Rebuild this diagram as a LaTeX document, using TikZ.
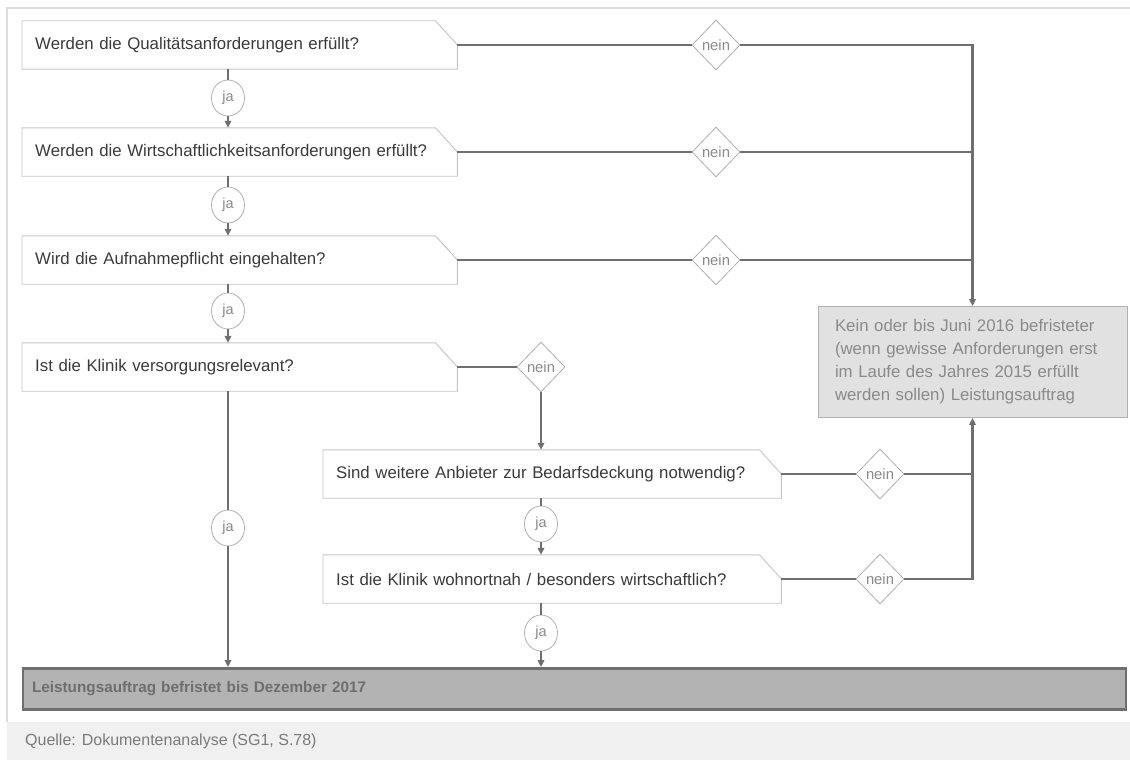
\documentclass[tikz,border=0pt]{standalone}
\usepackage{fontspec}
\setmainfont{Liberation Sans}
\usetikzlibrary{shapes.geometric,arrows.meta}
\definecolor{connc}{HTML}{6F6F6F}
\definecolor{boxc}{HTML}{C4C4C4}
\definecolor{txtc}{HTML}{3A3A3A}
\definecolor{lblc}{HTML}{8A8A8A}
\definecolor{shapec}{HTML}{B0B0B0}
\definecolor{resfill}{HTML}{E1E1E1}
\definecolor{finfill}{HTML}{B3B3B3}
\definecolor{fintxt}{HTML}{6E6E6E}
\definecolor{framec}{HTML}{DCDCDC}
\definecolor{bandc}{HTML}{F0F0F0}
\definecolor{srcc}{HTML}{7A7A7A}
\newcommand\qoutline[1]{\draw[qline] (#1.south west) -- (#1.north west) -- ([xshift=-22pt]#1.north east) -- (#1.east) -- (#1.south east) -- cycle;}
\begin{document}
\begin{tikzpicture}[x=1pt,y=-1pt,
  qbox/.style={rectangle, anchor=west, inner xsep=13pt, inner ysep=0pt, minimum height=48pt, text width=#1, align=left, font=\fontsize{16.8}{20}\selectfont, text=txtc},
  qline/.style={draw=boxc, line width=0.9pt},
  jacirc/.style={ellipse, draw=shapec, line width=0.8pt, fill=white, minimum width=33pt, minimum height=36pt, inner sep=0pt, font=\fontsize{14.5}{16}\selectfont, text=lblc},
  neindia/.style={diamond, draw=shapec, line width=0.8pt, fill=white, minimum width=48pt, minimum height=50pt, inner sep=0pt, font=\fontsize{14.8}{16}\selectfont, text=lblc},
  mainline/.style={draw=connc, line width=2.6pt},
  jaline/.style={draw=connc, line width=2pt},
  tip/.style={-{Triangle[length=7pt,width=6.5pt]}}
]
\useasboundingbox (0,0) rectangle (1130,760);
% frame and source band
\draw[framec, line width=1.5pt] (7,722) -- (7,8) -- (1130,8);
\fill[bandc] (7,722) rectangle (1130,760);
\node[anchor=west, inner sep=0pt, font=\fontsize{16}{18}\selectfont, text=srcc] (src) at (25,741) {Quelle: Dokumentenanalyse (SG1, S.78)};

% question boxes
\node[qbox=409pt] (b1) at (22,45) {Werden die Qualitätsanforderungen erfüllt?};
\node[qbox=409pt] (b2) at (22,152) {Werden die Wirtschaftlichkeitsanforderungen erfüllt?};
\node[qbox=409pt] (b3) at (22,260) {Wird die Aufnahmepflicht eingehalten?};
\node[qbox=409pt] (b4) at (22,367) {Ist die Klinik versorgungsrelevant?};
\node[qbox=432pt] (b5) at (323,474) {Sind weitere Anbieter zur Bedarfsdeckung notwendig?};
\node[qbox=432pt] (b6) at (323,579) {Ist die Klinik wohnortnah / besonders wirtschaftlich?};
\qoutline{b1}\qoutline{b2}\qoutline{b3}\qoutline{b4}\qoutline{b5}\qoutline{b6}

% result boxes
\node[rectangle, fill=resfill, draw=shapec, line width=0.8pt, minimum width=309pt, minimum height=111pt, inner xsep=17pt, text width=275pt, align=left, font=\fontsize{16.8}{23}\selectfont, text=lblc] (res) at (972.5,362)
  {Kein oder bis Juni 2016 befristeter (wenn gewisse Anforderungen erst im Laufe des Jahres 2015 erfüllt werden sollen) Leistungsauftrag};
\node[rectangle, fill=finfill, draw=connc, line width=2.8pt, minimum width=1103pt, minimum height=41pt, inner xsep=9pt, text width=1085pt, align=left, font=\fontsize{15.3}{18}\selectfont\bfseries, text=fintxt] (fin) at (574.5,689)
  {Leistungsauftrag befristet bis Dezember 2017};

% ja circles
\node[jacirc] (ja1) at (228,98) {ja};
\node[jacirc] (ja2) at (228,205) {ja};
\node[jacirc] (ja3) at (228,311) {ja};
\node[jacirc] (ja4) at (228,528) {ja};
\node[jacirc] (ja5) at (541,524) {ja};
\node[jacirc] (ja6) at (541,633) {ja};

% nein diamonds
\node[neindia] (n1) at (716,45) {nein};
\node[neindia] (n2) at (716,152) {nein};
\node[neindia] (n3) at (716,260) {nein};
\node[neindia] (n4) at (541,367) {nein};
\node[neindia] (n5) at (880,474) {nein};
\node[neindia] (n6) at (880,579) {nein};

% ja connectors
\draw[jaline] (ja1 |- b1.south) -- (ja1.north);
\draw[jaline, tip] (ja1.south) -- (ja1 |- b2.north);
\draw[jaline] (ja2 |- b2.south) -- (ja2.north);
\draw[jaline, tip] (ja2.south) -- (ja2 |- b3.north);
\draw[jaline] (ja3 |- b3.south) -- (ja3.north);
\draw[jaline, tip] (ja3.south) -- (ja3 |- b4.north);
\draw[jaline] (ja4 |- b4.south) -- (ja4.north);
\draw[jaline, tip] (ja4.south) -- (ja4 |- fin.north);
\draw[jaline] (ja5 |- b5.south) -- (ja5.north);
\draw[jaline, tip] (ja5.south) -- (ja5 |- b6.north);
\draw[jaline] (ja6 |- b6.south) -- (ja6.north);
\draw[jaline, tip] (ja6.south) -- (ja6 |- fin.north);

% nein connectors
\draw[mainline] (b1.east) -- (n1.west);
\draw[mainline] (b2.east) -- (n2.west);
\draw[mainline] (b3.east) -- (n3.west);
\draw[mainline, tip] (n1.east) -- (res.north |- n1) -- (res.north);
\draw[mainline] (n2.east) -- (res.north |- n2);
\draw[mainline] (n3.east) -- (res.north |- n3);
\draw[mainline] (b4.east) -- (n4.west);
\draw[mainline, tip] (n4.south) -- (n4 |- b5.north);
\draw[mainline] (b5.east) -- (n5.west);
\draw[mainline] (b6.east) -- (n6.west);
\draw[mainline, tip] (n6.east) -- (res.south |- n6) -- (res.south);
\draw[mainline] (n5.east) -- (res.south |- n5);
\end{tikzpicture}
\end{document}
